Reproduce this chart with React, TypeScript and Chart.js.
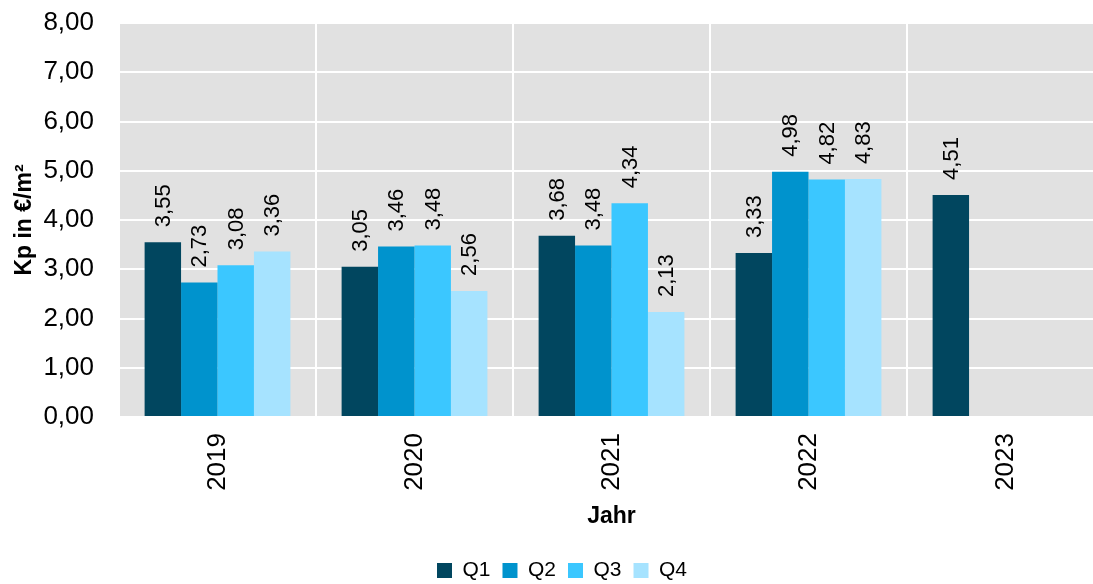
import React, { useEffect, useRef } from 'react';
import { Chart, registerables } from 'chart.js';

Chart.register(...registerables);

const years = ['2019', '2020', '2021', '2022', '2023'];
const seriesNames = ['Q1', 'Q2', 'Q3', 'Q4'];
const q1Values = [3.55, 3.05, 3.68, 3.33, 4.51];
const q2Values = [2.73, 3.46, 3.48, 4.98, null];
const q3Values = [3.08, 3.48, 4.34, 4.82, null];
const q4Values = [3.36, 2.56, 2.13, 4.83, null];
const seriesColors = ['#01465f', '#0093cd', '#3bc7ff', '#a6e3ff'];
const yMin = 0;
const yMax = 8;
const yStep = 1;
const yTitle = 'Kp in €/m²';
const xTitle = 'Jahr';

const FONT = '"Liberation Sans", Arial, sans-serif';
const fmt = (v: number) => v.toFixed(2).replace('.', ',');

const plotBg = {
  id: 'plotBg',
  beforeDraw(chart: any) {
    const { ctx, chartArea } = chart;
    ctx.save();
    ctx.fillStyle = '#e1e1e1';
    ctx.fillRect(chartArea.left, chartArea.top, chartArea.right - chartArea.left, chartArea.bottom - chartArea.top);
    ctx.restore();
  },
};

const valueLabels = {
  id: 'valueLabels',
  afterDatasetsDraw(chart: any) {
    const ctx = chart.ctx;
    ctx.save();
    ctx.font = `22px ${FONT}`;
    ctx.fillStyle = '#000000';
    ctx.textAlign = 'left';
    ctx.textBaseline = 'middle';
    chart.data.datasets.forEach((ds: any, i: number) => {
      const meta = chart.getDatasetMeta(i);
      meta.data.forEach((el: any, j: number) => {
        const v = ds.data[j];
        if (v === null || v === undefined) return;
        ctx.save();
        ctx.translate(el.x + 1, el.y - 15);
        ctx.rotate(-Math.PI / 2);
        ctx.fillText(fmt(v), 0, 0);
        ctx.restore();
      });
    });
    ctx.restore();
  },
};

const legendShift = {
  id: 'legendShift',
  afterLayout(chart: any) {
    if (chart.legend) {
      chart.legend.left += 10;
      chart.legend.right += 10;
    }
  },
};

export default function App() {
  const ref = useRef<HTMLCanvasElement | null>(null);

  useEffect(() => {
    if (!ref.current) return;
    const allValues = [q1Values, q2Values, q3Values, q4Values];
    const chart = new Chart(ref.current, {
      type: 'bar',
      data: {
        labels: years,
        datasets: seriesNames.map((name, i) => ({
          label: name,
          data: allValues[i],
          backgroundColor: seriesColors[i],
          borderWidth: 0,
          categoryPercentage: 0.74,
          barPercentage: 1.0,
        })),
      },
      options: {
        animation: false,
        responsive: false,
        devicePixelRatio: 1,
        layout: { padding: { top: 23, left: 0, right: 0, bottom: 0 } },
        plugins: {
          legend: {
            position: 'bottom',
            labels: {
              boxWidth: 15,
              boxHeight: 15,
              padding: 12,
              color: '#000000',
              font: { family: FONT, size: 21 },
            },
          },
          tooltip: { enabled: false },
        },
        scales: {
          x: {
            grid: { color: '#ffffff', lineWidth: 2, drawTicks: false, offset: true },
            border: { display: false },
            ticks: {
              color: '#000000',
              font: { family: FONT, size: 26 },
              minRotation: 90,
              maxRotation: 90,
              padding: 16,
            },
            title: {
              display: true,
              text: xTitle,
              color: '#000000',
              font: { family: FONT, size: 23, weight: 'bold' },
              padding: { top: 0, bottom: 18 },
            },
            afterFit(scale: any) {
              scale.height = 131;
            },
          },
          y: {
            min: yMin,
            max: yMax,
            grid: { color: '#ffffff', lineWidth: 2, drawTicks: false },
            border: { display: false },
            ticks: {
              stepSize: yStep,
              color: '#000000',
              font: { family: FONT, size: 26 },
              padding: 25,
              callback: (v: any) => fmt(Number(v)),
            },
            title: {
              display: true,
              text: yTitle,
              color: '#000000',
              font: { family: FONT, size: 23, weight: 'bold' },
              padding: { top: 11, bottom: 0 },
            },
            afterFit(scale: any) {
              scale.width = 119;
              scale.paddingTop = 0;
              scale.paddingBottom = 0;
            },
          },
        },
      },
      plugins: [plotBg, valueLabels, legendShift],
    } as any);
    return () => chart.destroy();
  }, []);

  return (
    <div style={{ position: 'fixed', left: 0, top: 0, width: 1093, height: 584, overflow: 'hidden', background: '#ffffff' }}>
      <canvas ref={ref} width={1104} height={591} style={{ display: 'block' }} />
    </div>
  );
}
